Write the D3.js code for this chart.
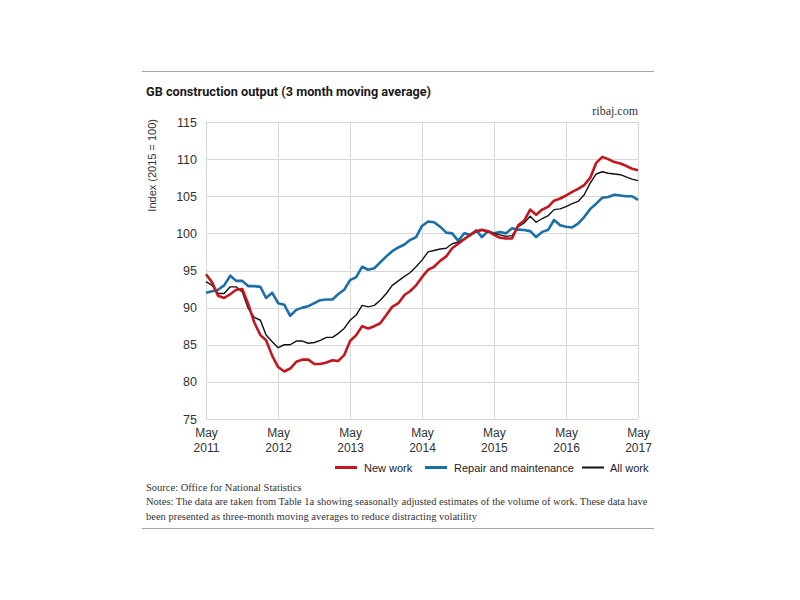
<!DOCTYPE html>
<html>
<head>
<meta charset="utf-8">
<script src="https://cdn.jsdelivr.net/npm/d3@7"></script>
<style>
  html, body { margin: 0; padding: 0; background: #fff; }
  svg { display: block; }
</style>
</head>
<body>
<svg id="chart" width="800" height="600"></svg>
<script>
// ---- Data (monthly, May 2011 to May 2017) ----
const startMonth = "2011-05";
const endMonth = "2017-05";

const newWork = [
  94.5, 93.4, 91.6, 91.3, 91.8, 92.4, 92.5, 90.5, 88.0, 86.3, 85.6, 83.5,
  82.0, 81.4, 81.8, 82.7, 83.0, 83.0, 82.4, 82.4, 82.6, 82.9, 82.8, 83.6,
  85.5, 86.3, 87.5, 87.2, 87.5, 87.9, 89.0, 90.1, 90.6, 91.7, 92.2, 93.0,
  94.1, 95.1, 95.5, 96.3, 96.9, 98.0, 98.6, 99.2, 99.8, 100.3, 100.5, 100.3,
  99.8, 99.4, 99.3, 99.3, 101.1, 101.7, 103.2, 102.5, 103.2, 103.6, 104.4, 104.7,
  105.1, 105.6, 106.0, 106.5, 107.5, 109.5, 110.3, 110.0, 109.6, 109.4, 109.1, 108.7,
  108.5
];
const repairMaintenance = [
  92.0, 92.2, 92.4, 93.0, 94.3, 93.6, 93.6, 92.9, 92.9, 92.8, 91.3, 92.0,
  90.6, 90.4, 88.9, 89.7, 90.0, 90.2, 90.6, 91.0, 91.1, 91.1, 91.8, 92.4,
  93.7, 94.1, 95.5, 95.1, 95.3, 96.1, 96.9, 97.6, 98.1, 98.5, 99.1, 99.5,
  101.0, 101.6, 101.5, 100.9, 100.1, 100.0, 99.0, 100.0, 99.8, 100.4, 99.5, 100.3,
  100.0, 100.2, 100.0, 100.7, 100.5, 100.45, 100.3, 99.5, 100.2, 100.5, 101.8, 101.1,
  100.9, 100.8, 101.3, 102.2, 103.3, 104.0, 104.8, 104.9, 105.2, 105.1, 105.0, 105.0,
  104.5
];
const allWork = [
  93.5, 93.0, 91.9, 91.9, 92.8, 92.8, 92.1, 89.9, 88.7, 88.3, 86.3, 85.4,
  84.6, 85.0, 85.0, 85.5, 85.5, 85.2, 85.3, 85.6, 86.0, 86.0, 86.5, 87.2,
  88.3, 89.0, 90.3, 90.1, 90.3, 91.0, 91.9, 93.0, 93.6, 94.2, 94.7, 95.5,
  96.4, 97.5, 97.7, 97.9, 98.0, 98.6, 98.8, 99.3, 99.8, 100.2, 100.4, 100.2,
  100.0, 99.8, 99.6, 99.7, 100.9, 101.4, 102.3, 101.5, 102.0, 102.4, 103.2, 103.3,
  103.6, 104.0, 104.3, 105.2, 106.8, 108.0, 108.3, 108.1, 108.0, 107.9, 107.6, 107.3,
  107.1
];
const yTicks = [75, 80, 85, 90, 95, 100, 105, 110, 115];
const xTickLabels = ["2011", "2012", "2013", "2014", "2015", "2016", "2017"];
const seriesNames = ["New work", "Repair and maintenance", "All work"];
const seriesColors = ["#c3161f", "#1a70a6", "#111111"];

// ---- Layout ----
const svg = d3.select("#chart");
const plot = { left: 206, right: 638, top: 122, bottom: 419 };

const parse = d3.timeParse("%Y-%m");
const months = d3.timeMonth.range(parse(startMonth), d3.timeMonth.offset(parse(endMonth), 1));

const x = d3.scaleTime().domain([parse(startMonth), parse(endMonth)]).range([plot.left, plot.right]);
const y = d3.scaleLinear().domain([75, 115]).range([plot.bottom, plot.top]);

svg.append("rect").attr("width", 800).attr("height", 600).attr("fill", "#fff");

// rules
svg.append("line").attr("x1", 142).attr("x2", 654).attr("y1", 71.5).attr("y2", 71.5)
  .attr("stroke", "#a6a6a6").attr("stroke-width", 1);
svg.append("line").attr("x1", 142).attr("x2", 654).attr("y1", 528.5).attr("y2", 528.5)
  .attr("stroke", "#a6a6a6").attr("stroke-width", 1);

// title
svg.append("text").attr("x", 146).attr("y", 96)
  .attr("font-family", "Roboto, 'Liberation Sans', sans-serif").attr("font-weight", "bold")
  .attr("font-size", 12.7).attr("fill", "#1a1a1a")
  .text("GB construction output (3 month moving average)");

svg.append("text").attr("x", 638).attr("y", 115).attr("text-anchor", "end")
  .attr("font-family", "'Liberation Serif', serif").attr("font-size", 12).attr("fill", "#333")
  .text("ribaj.com");

// gridlines
const xTickDates = xTickLabels.map(yr => parse(yr + "-05"));
const grid = svg.append("g").attr("stroke", "#d8d8d8").attr("stroke-width", 1);
grid.selectAll("line.h").data(yTicks).join("line")
  .attr("x1", plot.left).attr("x2", plot.right)
  .attr("y1", d => Math.round(y(d)) + 0.5).attr("y2", d => Math.round(y(d)) + 0.5);
grid.selectAll("line.v").data(xTickDates).join("line")
  .attr("y1", plot.top).attr("y2", plot.bottom)
  .attr("x1", d => Math.round(x(d)) + 0.5).attr("x2", d => Math.round(x(d)) + 0.5);

// y axis
const yAxis = d3.axisLeft(y).tickValues(yTicks).tickSize(0).tickPadding(9);
const gy = svg.append("g").attr("transform", `translate(${plot.left},0)`).call(yAxis);
gy.select(".domain").remove();
gy.selectAll("text").attr("font-family", "'Liberation Sans', Arial, sans-serif")
  .attr("font-size", 12.5).attr("fill", "#333");

// x axis (two-line labels)
const xAxis = d3.axisBottom(x).tickValues(xTickDates).tickSize(0).tickFormat(() => "");
const gx = svg.append("g").attr("transform", `translate(0,${plot.bottom})`).call(xAxis);
gx.select(".domain").remove();
gx.selectAll(".tick").each(function(d, i) {
  const t = d3.select(this).append("text").attr("fill", "#333")
    .attr("font-family", "'Liberation Sans', Arial, sans-serif").attr("font-size", 12)
    .attr("text-anchor", "middle");
  t.append("tspan").attr("x", 0).attr("y", 17.5).text("May");
  t.append("tspan").attr("x", 0).attr("y", 32.5).text(xTickLabels[i]);
});

// y label
svg.append("text").attr("transform", "translate(156,119) rotate(-90)")
  .attr("text-anchor", "end").attr("font-family", "'Liberation Sans', Arial, sans-serif")
  .attr("font-size", 11).attr("fill", "#333").text("Index (2015 = 100)");

// lines
const series = [
  { name: seriesNames[0], values: newWork, color: seriesColors[0], width: 2.6 },
  { name: seriesNames[1], values: repairMaintenance, color: seriesColors[1], width: 2.6 },
  { name: seriesNames[2], values: allWork, color: seriesColors[2], width: 1.4 }
];
const line = d3.line().x((d, i) => x(months[i])).y(d => y(d));
const drawOrder = [series[1], series[2], series[0]];
svg.append("g").selectAll("path").data(drawOrder).join("path")
  .attr("d", d => line(d.values)).attr("fill", "none")
  .attr("stroke", d => d.color).attr("stroke-width", d => d.width)
  .attr("stroke-linejoin", "round");

// legend
const legendItems = [
  { s: series[0], x1: 335, tx: 364 },
  { s: series[1], x1: 425, tx: 454 },
  { s: series[2], x1: 582, tx: 610 }
];
const lg = svg.append("g");
legendItems.forEach(it => {
  lg.append("line").attr("x1", it.x1).attr("x2", it.x1 + 22).attr("y1", 467.5).attr("y2", 467.5)
    .attr("stroke", it.s.color).attr("stroke-width", it.s === series[2] ? 2 : 3);
  lg.append("text").attr("x", it.tx).attr("y", 471.5)
    .attr("font-family", "'Liberation Sans', Arial, sans-serif").attr("font-size", 11)
    .attr("fill", "#222").text(it.s.name);
});

// source and notes
const notes = [
  "Source: Office for National Statistics",
  "Notes: The data are taken from Table 1a showing seasonally adjusted estimates of the volume of work. These data have",
  "been presented as three-month moving averages to reduce distracting volatility"
];
svg.append("g").selectAll("text").data(notes).join("text")
  .attr("x", 146).attr("y", (d, i) => 490.5 + i * 14.5)
  .attr("font-family", "'Liberation Serif', serif").attr("font-size", 10.5)
  .attr("fill", "#333").text(d => d);
</script>
</body>
</html>
